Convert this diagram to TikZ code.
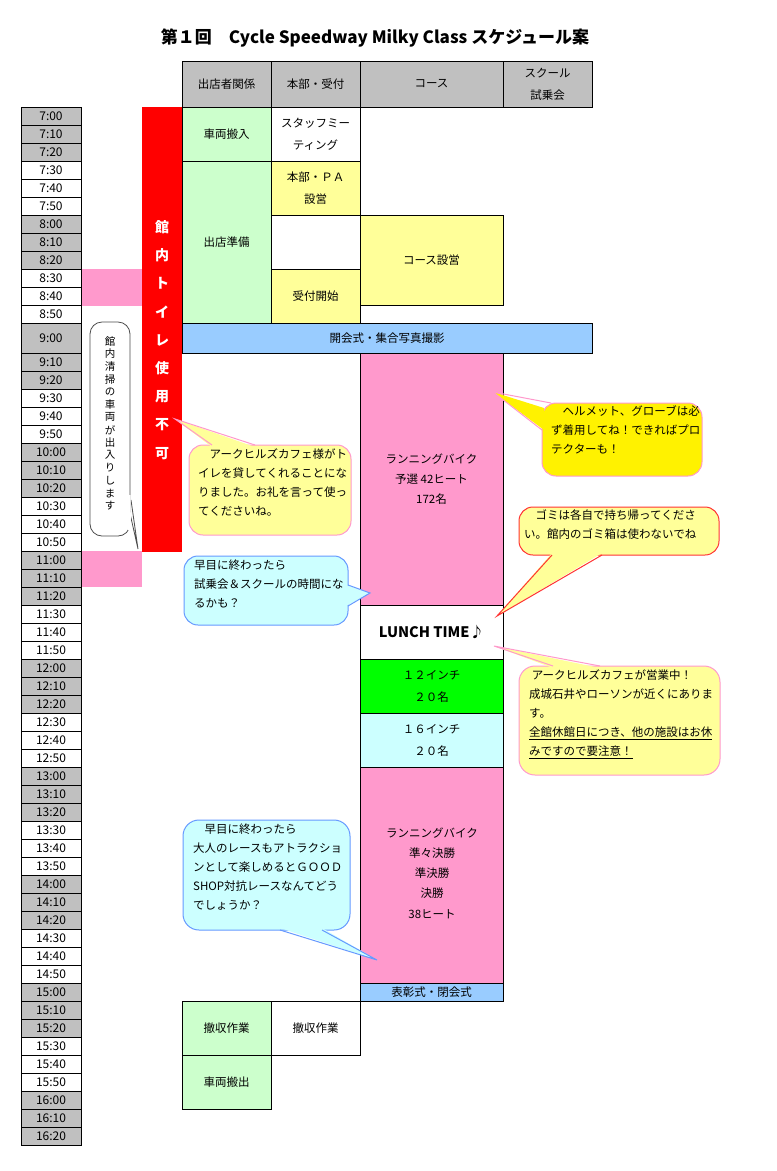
\documentclass[tikz,border=0pt]{standalone}
\usepackage{fontspec}
\setmainfont{Noto Sans CJK JP}
\begin{document}
\begin{tikzpicture}[x=1pt,y=-1pt,
  cell/.style={draw=black,line width=1pt},
  txt/.style={font=\fontsize{11.5}{18}\selectfont,align=center,inner sep=0pt},
  ctxt/.style={font=\fontsize{11.5}{19}\selectfont,align=left,inner sep=0pt,anchor=north west},
  tlabel/.style={font=\fontsize{12}{14}\selectfont,inner sep=0pt}]
\definecolor{cgray}{HTML}{C0C0C0}
\definecolor{cgreen}{HTML}{CCFFCC}
\definecolor{cyel}{HTML}{FFFF99}
\definecolor{cblue}{HTML}{99CCFF}
\definecolor{cpink}{HTML}{FF99CC}
\definecolor{cgrn}{HTML}{00FF00}
\definecolor{ccyan}{HTML}{CCFFFF}
\definecolor{cborderpink}{HTML}{FF99CC}
\definecolor{cborderblue}{HTML}{6699FF}
\useasboundingbox (0,0) rectangle (777,1171);
\fill[white] (0,0) rectangle (777,1171);
% title
\node[font=\fontsize{17}{20}\selectfont\bfseries,inner sep=0pt] (title) at (375,38) {第１回　Cycle Speedway Milky Class スケジュール案};
% time column
\foreach \i in {0,...,56}{
  \pgfmathtruncatemacro{\top}{\i<12 ? 107+18*\i : (\i==12 ? 323 : 353+18*(\i-13))}
  \pgfmathtruncatemacro{\bot}{\i==12 ? 353 : \top+18}
  \pgfmathtruncatemacro{\hr}{7+floor(\i/6)}
  \pgfmathtruncatemacro{\mn}{mod(\i,6)}
  \pgfmathtruncatemacro{\g}{mod(\i,6)<3 ? 1 : 0}
  \ifnum\g=1 \def\fc{cgray}\else\def\fc{white}\fi
  \draw[cell,fill=\fc] (21,\top) rectangle node[tlabel,name=t\i]{\hr:\mn0} (81,\bot);
}
% headers
\draw[cell,fill=cgray] (182,61) rectangle node[txt,name=h1]{出店者関係} (271,107);
\draw[cell,fill=cgray] (271,61) rectangle node[txt,name=h2]{本部・受付} (360,107);
\draw[cell,fill=cgray] (360,61) rectangle node[txt,name=h3]{コース} (503,107);
\draw[cell,fill=cgray] (503,61) rectangle node[txt,name=h4,font=\fontsize{11.5}{22}\selectfont]{スクール\\試乗会} (592,107);
% red bar
\fill[red] (142,107) rectangle (182,552);
\foreach \c [count=\k from 0] in {館,内,ト,イ,レ,使,用,不,可}{
  \node[font=\fontsize{14}{16}\selectfont\bfseries,text=white,inner sep=0pt,name=r\k] at (162,227+28.3*\k) {\c};
}
% pink side
\fill[cpink] (82,269) rectangle node[txt,name=nyu]{車両入庫} (142,306);
\fill[cpink] (82,551) rectangle node[txt,name=syu]{車両出庫} (142,587);
% vertical note
\draw[gray!60!black,line width=0.8pt,fill=white] (127,500) -- (138,549) -- (131,500);
\draw[gray!60!black,line width=0.8pt,fill=white,rounded corners=12] (90,322) rectangle (130,536);
\fill[white] (127.5,495) -- (130.5,495) -- (131,530) -- (128,530) -- cycle;
\foreach \c [count=\k from 0] in {館,内,清,掃,の,車,両,が,出,入,り,し,ま,す}{
  \node[font=\fontsize{10.5}{12}\selectfont,inner sep=0pt,name=v\k] at (110,341+12.7*\k) {\c};
}
% column cells
\draw[cell,fill=cgreen] (182,107) rectangle node[txt,name=a1]{車両搬入} (271,161);
\draw[cell,fill=cgreen] (182,161) rectangle node[txt,name=a2]{出店準備} (271,323);
\draw[cell,fill=white] (271,107) rectangle node[txt,name=b1,font=\fontsize{11.5}{22}\selectfont]{スタッフミー\\ティング} (360,161);
\draw[cell,fill=cyel] (271,161) rectangle node[txt,name=b2,font=\fontsize{11.5}{22}\selectfont]{本部・ＰＡ\\設営} (360,215);
\draw[cell,fill=white] (271,215) rectangle (360,269);
\draw[cell,fill=cyel] (271,269) rectangle node[txt,name=b3]{受付開始} (360,323);
\draw[cell] (360,107) -- (360,215);
\draw[cell,fill=cyel] (360,215) rectangle node[txt,name=c1]{コース設営} (503,305);
\draw[cell,fill=cblue] (182,323) rectangle node[txt,name=open]{開会式・集合写真撮影} (592,353);
\draw[cell,fill=cpink] (360,353) rectangle node[txt,name=run1,font=\fontsize{11.5}{20}\selectfont]{ランニングバイク\\予選 42ヒート\\172名} (503,605);
\draw[cell,fill=white] (360,605) rectangle node[inner sep=0pt,name=lunch,font=\fontsize{14.5}{16}\selectfont\bfseries]{LUNCH TIME♪} (503,659);
\draw[cell,fill=cgrn] (360,659) rectangle node[txt,name=i12,font=\fontsize{11.5}{22}\selectfont]{１２インチ\\２０名} (503,713);
\draw[cell,fill=ccyan] (360,713) rectangle node[txt,name=i16,font=\fontsize{11.5}{22}\selectfont]{１６インチ\\２０名} (503,767);
\draw[cell,fill=cpink] (360,767) rectangle (503,983);
\node[txt,name=run2,font=\fontsize{11.5}{20.3}\selectfont] at (432,873) {ランニングバイク\\準々決勝\\準決勝\\決勝\\38ヒート};
\draw[cell,fill=cblue] (360,983) rectangle node[txt,name=close]{表彰式・閉会式} (503,1001);
\draw[cell] (360,1001) -- (360,1055);
\draw[cell,fill=cgreen] (182,1001) rectangle node[txt,name=d1]{撤収作業} (271,1055);
\draw[cell,fill=white] (271,1001) rectangle node[txt,name=d2]{撤収作業} (360,1055);
\draw[cell,fill=cgreen] (182,1055) rectangle node[txt,name=d3]{車両搬出} (271,1109);
% callouts
% 1
\draw[cborderpink,line width=1pt,fill=cyel,rounded corners=14] (189,445) rectangle (351,535);
\fill[cyel] (212,447) -- (175,419) -- (255,447) -- cycle;
\draw[cborderpink,line width=1pt] (212,445) -- (175,419) -- (255,445);
\node[ctxt,name=co1] at (198,449) {　アークヒルズカフェ様がト\\イレを貸してくれることにな\\りました。お礼を言って使っ\\てくださいね。};
% 2
\draw[cborderblue,line width=1pt,fill=ccyan,rounded corners=14] (184,556) rectangle (348,625);
\fill[ccyan] (346,585) -- (370,593) -- (346,606) -- cycle;
\draw[cborderblue,line width=1pt] (348,585) -- (370,593) -- (348,606);
\node[ctxt,name=co2] at (194,560) {早目に終わったら\\試乗会＆スクールの時間にな\\るかも？};
% 3
\draw[cborderpink,line width=1pt,fill=yellow,rounded corners=14] (542,403) rectangle (702,476);
\fill[yellow] (544,408) -- (493,392) -- (544,430) -- cycle;
\draw[cborderpink,line width=1pt] (551,403) -- (493,392) -- (542,430);
\node[ctxt,name=co3] at (551,405) {　ヘルメット、グローブは必\\ず着用してね！できればプロ\\テクターも！};
% 4
\draw[red!80,line width=1pt,fill=cyel,rounded corners=14] (519,507) rectangle (719,555);
\fill[cyel] (552,553) -- (497,616) -- (602,553) -- cycle;
\draw[red!80,line width=1pt] (552,555) -- (497,616) -- (602,555);
\node[ctxt,name=co4] at (524,509) {　ゴミは各自で持ち帰ってくださ\\い。館内のゴミ箱は使わないでね};
% 5
\draw[cborderpink,line width=1pt,fill=cyel,rounded corners=16] (519,666) rectangle (720,775);
\fill[cyel] (553,668) -- (494,646) -- (600,668) -- cycle;
\draw[cborderpink,line width=1pt] (553,666) -- (494,646) -- (600,666);
\node[ctxt,name=co5] at (529,670) {\ アークヒルズカフェが営業中！\\成城石井やローソンが近くにありま\\す。\\\underline{全館休館日につき、他の施設はお休}\\\underline{みですので要注意！}};
% 6
\draw[cborderblue,line width=1pt,fill=ccyan,rounded corners=16] (183,820) rectangle (350,930);
\fill[ccyan] (280,928) -- (377,960) -- (322,928) -- cycle;
\draw[cborderblue,line width=1pt] (280,930) -- (377,960) -- (322,930);
\node[ctxt,name=co6] at (193,824) {　早目に終わったら\\大人のレースもアトラクショ\\ンとして楽しめるとＧＯＯＤ\\SHOP対抗レースなんてどう\\でしょうか？};
\end{tikzpicture}
\end{document}
